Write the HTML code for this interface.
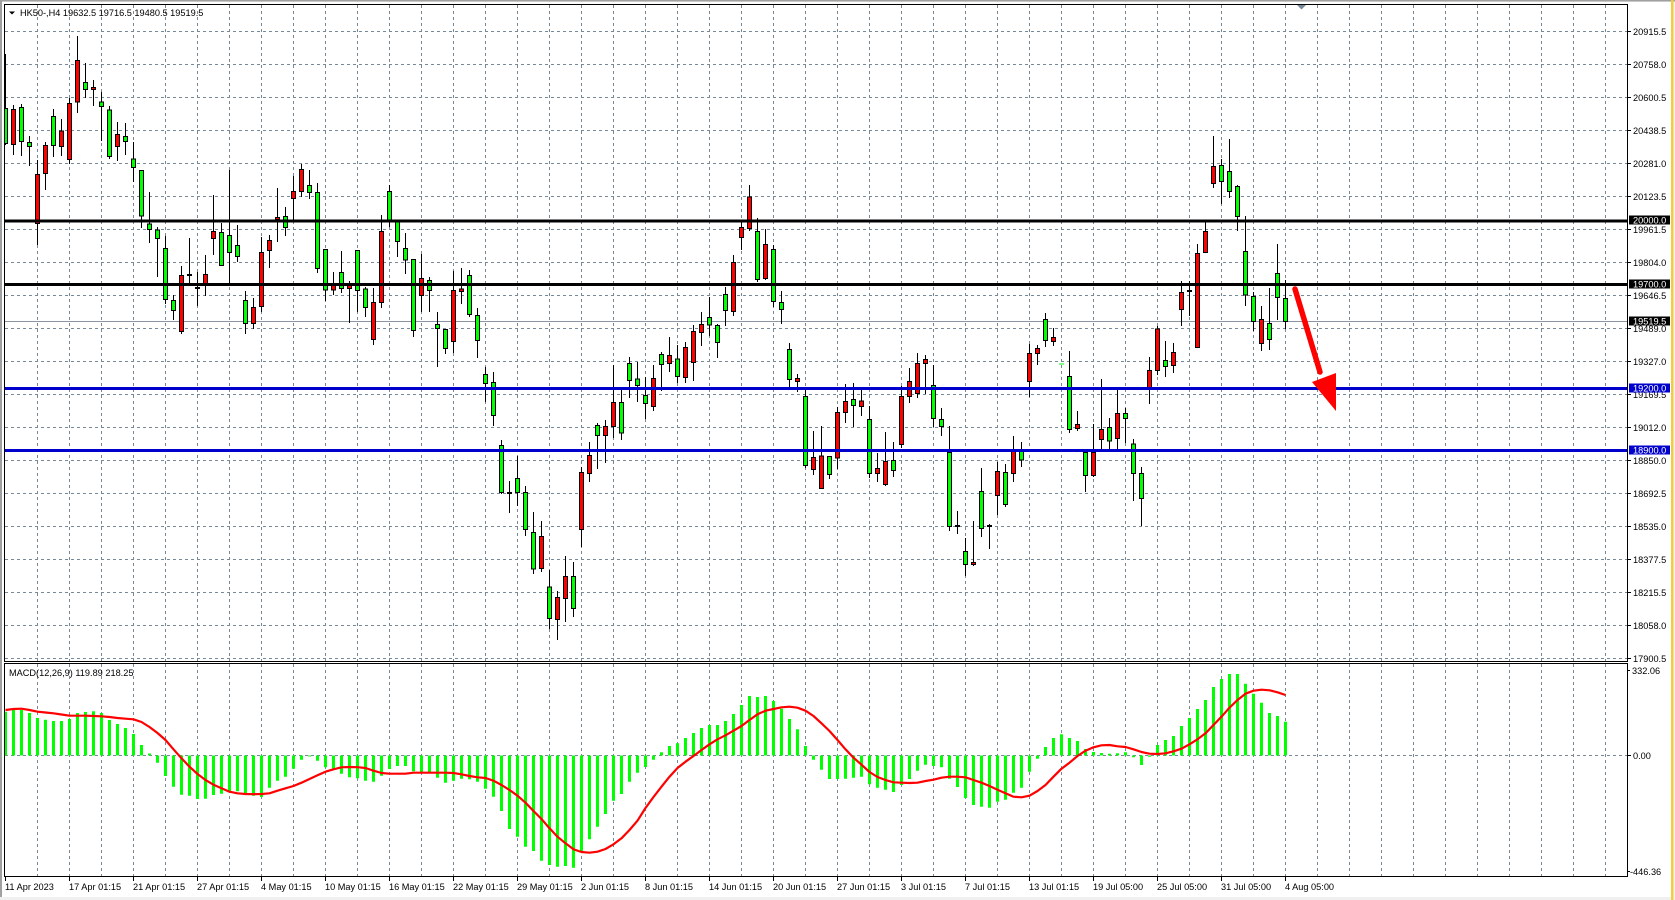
<!DOCTYPE html>
<html><head><meta charset="utf-8">
<style>
html,body{margin:0;padding:0;background:#f0f0f0;overflow:hidden;width:1675px;height:900px}
svg{position:absolute;left:0;top:0;display:block}
text{font-family:"Liberation Sans",Arial,sans-serif;font-size:9.2px;fill:#000}
</style></head><body>
<svg width="1675" height="900" viewBox="0 0 1675 900" xmlns="http://www.w3.org/2000/svg">
<defs>
<clipPath id="cp"><rect x="5" y="5" width="1622" height="656"/></clipPath>
<clipPath id="cm"><rect x="5" y="664" width="1622" height="212"/></clipPath>
</defs>
<!-- window -->
<rect x="0" y="0" width="1675" height="900" fill="#f0f0f0"/>
<rect x="2" y="2" width="1669" height="895" fill="#ffffff"/>
<rect x="0" y="0" width="1675" height="1.5" fill="#a0a0a0"/>
<rect x="0" y="0" width="2" height="897" fill="#a0a0a0"/>
<rect x="1671" y="0" width="2.5" height="900" fill="#f2cf3a"/>

<!-- grid price -->
<g stroke="#778899" stroke-width="1" stroke-dasharray="3 3" fill="none" shape-rendering="crispEdges">
<path d="M5 31.5H1627M5 64.5H1627M5 97.5H1627M5 130.5H1627M5 163.5H1627M5 196.5H1627M5 229.5H1627M5 262.5H1627M5 295.5H1627M5 328.5H1627M5 361.5H1627M5 394.5H1627M5 427.5H1627M5 460.5H1627M5 493.5H1627M5 526.5H1627M5 559.5H1627M5 592.5H1627M5 625.5H1627M5 658.5H1627"/>
<path d="M37.5 5V661M69.5 5V661M101.5 5V661M133.5 5V661M165.5 5V661M197.5 5V661M229.5 5V661M261.5 5V661M293.5 5V661M325.5 5V661M357.5 5V661M389.5 5V661M421.5 5V661M453.5 5V661M485.5 5V661M517.5 5V661M549.5 5V661M581.5 5V661M613.5 5V661M645.5 5V661M677.5 5V661M709.5 5V661M741.5 5V661M773.5 5V661M805.5 5V661M837.5 5V661M869.5 5V661M901.5 5V661M933.5 5V661M965.5 5V661M997.5 5V661M1029.5 5V661M1061.5 5V661M1093.5 5V661M1125.5 5V661M1157.5 5V661M1189.5 5V661M1221.5 5V661M1253.5 5V661M1285.5 5V661M1317.5 5V661M1349.5 5V661M1381.5 5V661M1413.5 5V661M1445.5 5V661M1477.5 5V661M1509.5 5V661M1541.5 5V661M1573.5 5V661M1605.5 5V661"/>
<path d="M37.5 664V876M69.5 664V876M101.5 664V876M133.5 664V876M165.5 664V876M197.5 664V876M229.5 664V876M261.5 664V876M293.5 664V876M325.5 664V876M357.5 664V876M389.5 664V876M421.5 664V876M453.5 664V876M485.5 664V876M517.5 664V876M549.5 664V876M581.5 664V876M613.5 664V876M645.5 664V876M677.5 664V876M709.5 664V876M741.5 664V876M773.5 664V876M805.5 664V876M837.5 664V876M869.5 664V876M901.5 664V876M933.5 664V876M965.5 664V876M997.5 664V876M1029.5 664V876M1061.5 664V876M1093.5 664V876M1125.5 664V876M1157.5 664V876M1189.5 664V876M1221.5 664V876M1253.5 664V876M1285.5 664V876M1317.5 664V876M1349.5 664V876M1381.5 664V876M1413.5 664V876M1445.5 664V876M1477.5 664V876M1509.5 664V876M1541.5 664V876M1573.5 664V876M1605.5 664V876"/>
<path d="M5 755.5H1627"/>
</g>

<!-- current price line -->
<path d="M5 321.5H1627" stroke="#8a96a3" stroke-width="1" shape-rendering="crispEdges"/>

<g clip-path="url(#cp)">
<!-- wicks -->
<path stroke="#000" stroke-width="1" fill="none" shape-rendering="crispEdges" d="M5.5 54V145M13.5 105V155M21.5 104V156M29.5 136V166M37.5 160V245M45.5 142V190M53.5 109V157M61.5 119V156M69.5 98V164M77.5 36V113M85.5 63V98M93.5 80V106M101.5 92V141M109.5 106V159M117.5 122V161M125.5 123V155M133.5 142V182M141.5 170V228M149.5 192V243M157.5 227V277M165.5 236V304M173.5 295V320M181.5 266V334M189.5 238V283M197.5 272V306M205.5 255V296M213.5 195V255M221.5 223V265M229.5 170V283M237.5 225V262M245.5 291V334M253.5 298V329M261.5 237V312M269.5 235V268M277.5 188V242M285.5 207V236M293.5 176V220M301.5 164V197M309.5 170V199M317.5 183V273M325.5 249V301M333.5 272V295M341.5 251V293M349.5 281V323M357.5 250V312M365.5 287V317M373.5 288V345M381.5 215V308M389.5 185V227M397.5 221V257M405.5 233V274M413.5 259V337M421.5 254V312M429.5 277V312M437.5 312V367M445.5 329V354M453.5 271V353M461.5 268V304M469.5 270V317M477.5 308V358M485.5 367V402M493.5 372V426M501.5 440V494M509.5 481V513M517.5 456V506M525.5 486V536M533.5 512V574M541.5 521V572M549.5 570V629M557.5 591V640M565.5 556V622M573.5 562V617M581.5 467V547M589.5 442V482M597.5 423V469M605.5 420V463M613.5 365V438M621.5 390V440M629.5 357V398M637.5 362V402M645.5 377V419M653.5 365V411M661.5 352V391M669.5 337V372M677.5 345V383M685.5 342V383M693.5 325V381M701.5 312V346M709.5 297V336M717.5 324V358M725.5 287V326M733.5 255V316M741.5 222V250M749.5 185V231M757.5 218V282M765.5 229V280M773.5 245V307M781.5 291V324M789.5 343V387M797.5 374V392M805.5 387V468M813.5 431V475M821.5 426V488M829.5 456V479M837.5 407V469M845.5 384V423M853.5 383V427M861.5 390V416M869.5 406V478M877.5 453V482M885.5 432V486M893.5 442V477M901.5 386V448M909.5 368V403M917.5 353V398M925.5 355V394M933.5 365V427M941.5 408V436M949.5 426V531M957.5 511V534M965.5 538V576M973.5 521V566M981.5 468V537M989.5 524V549M997.5 462V515M1005.5 464V507M1013.5 436V482M1021.5 442V467M1029.5 344V397M1037.5 345V365M1045.5 313V347M1053.5 328V346M1069.5 351V433M1077.5 411V431M1085.5 452V492M1093.5 424V477M1101.5 379V450M1109.5 418V452M1117.5 389V452M1125.5 408V443M1133.5 439V501M1141.5 467V526M1149.5 357V404M1157.5 326V375M1165.5 341V377M1173.5 343V373M1181.5 281V326M1189.5 281V316M1197.5 244V348M1205.5 222V252M1213.5 136V188M1221.5 159V204M1229.5 139V198M1237.5 185V231M1245.5 216V306M1253.5 292V331M1261.5 306V351M1269.5 288V350M1277.5 244V320M1285.5 280V329"/>
<!-- dojis -->
<path stroke="#000" stroke-width="2" fill="none" d="M187 275H192M195 288H200M507 493H512M955 526H960M987 526H992M1187 291H1192"/>
<path stroke="#00ff00" stroke-width="1" fill="none" d="M1059 364H1064"/>
<!-- green bodies -->
<g fill="#00ff00" stroke="#000" stroke-width="1">
<rect x="3.5" y="108.5" width="4" height="35"/>
<rect x="19.5" y="107.5" width="4" height="34"/>
<rect x="27.5" y="142.5" width="4" height="4"/>
<rect x="51.5" y="116.5" width="4" height="29"/>
<rect x="83.5" y="82.5" width="4" height="7"/>
<rect x="99.5" y="102" width="4" height="4.5"/>
<rect x="107.5" y="110" width="4" height="46.5"/>
<rect x="123.5" y="136.5" width="4" height="5"/>
<rect x="131.5" y="159" width="4" height="8.5"/>
<rect x="139.5" y="170.5" width="4" height="45.5"/>
<rect x="147.5" y="224" width="4" height="5.5"/>
<rect x="155.5" y="230" width="4" height="8.5"/>
<rect x="163.5" y="248.5" width="4" height="51"/>
<rect x="171.5" y="300.5" width="4" height="10"/>
<rect x="219.5" y="232.5" width="4" height="33"/>
<rect x="227.5" y="235.5" width="4" height="17"/>
<rect x="235.5" y="245.5" width="4" height="11"/>
<rect x="243.5" y="300.5" width="4" height="23"/>
<rect x="283.5" y="216.5" width="4" height="11"/>
<rect x="307.5" y="185.5" width="4" height="7"/>
<rect x="315.5" y="192.5" width="4" height="76"/>
<rect x="323.5" y="249.5" width="4" height="40.5"/>
<rect x="339.5" y="272.5" width="4" height="16"/>
<rect x="355.5" y="250.5" width="4" height="40"/>
<rect x="363.5" y="289" width="4" height="18.5"/>
<rect x="387.5" y="191.5" width="4" height="28.5"/>
<rect x="395.5" y="221" width="4" height="20.5"/>
<rect x="403.5" y="248.5" width="4" height="11.5"/>
<rect x="411.5" y="259.5" width="4" height="71"/>
<rect x="427.5" y="280.5" width="4" height="10"/>
<rect x="435.5" y="324.5" width="4" height="4"/>
<rect x="443.5" y="329.5" width="4" height="19"/>
<rect x="467.5" y="275.5" width="4" height="39"/>
<rect x="475.5" y="315.5" width="4" height="25"/>
<rect x="483.5" y="374.5" width="4" height="9"/>
<rect x="491.5" y="382.5" width="4" height="33"/>
<rect x="499.5" y="445.5" width="4" height="47"/>
<rect x="515.5" y="478.5" width="4" height="14"/>
<rect x="523.5" y="492.5" width="4" height="37"/>
<rect x="531.5" y="532.5" width="4" height="36.5"/>
<rect x="547.5" y="587" width="4" height="31.5"/>
<rect x="571.5" y="576.5" width="4" height="32"/>
<rect x="595.5" y="425.5" width="4" height="10"/>
<rect x="619.5" y="402.5" width="4" height="30.5"/>
<rect x="627.5" y="363.5" width="4" height="17"/>
<rect x="635.5" y="379" width="4" height="6.5"/>
<rect x="643.5" y="395.5" width="4" height="8"/>
<rect x="659.5" y="354.5" width="4" height="10"/>
<rect x="675.5" y="359" width="4" height="17.5"/>
<rect x="707.5" y="317.5" width="4" height="7.5"/>
<rect x="715.5" y="325.5" width="4" height="17"/>
<rect x="723.5" y="294.5" width="4" height="16"/>
<rect x="755.5" y="231.5" width="4" height="48"/>
<rect x="771.5" y="249.5" width="4" height="52"/>
<rect x="779.5" y="302.5" width="4" height="7"/>
<rect x="787.5" y="349.5" width="4" height="30"/>
<rect x="803.5" y="396.5" width="4" height="69"/>
<rect x="827.5" y="456.5" width="4" height="18"/>
<rect x="851.5" y="399.5" width="4" height="6"/>
<rect x="867.5" y="419.5" width="4" height="54"/>
<rect x="891.5" y="460.5" width="4" height="10"/>
<rect x="931.5" y="385.5" width="4" height="33"/>
<rect x="939.5" y="419.5" width="4" height="7"/>
<rect x="947.5" y="452.5" width="4" height="74"/>
<rect x="963.5" y="551.5" width="4" height="13"/>
<rect x="979.5" y="491.5" width="4" height="37"/>
<rect x="1003.5" y="472.5" width="4" height="32"/>
<rect x="1019.5" y="451" width="4" height="9"/>
<rect x="1043.5" y="319.5" width="4" height="21"/>
<rect x="1067.5" y="376.5" width="4" height="53"/>
<rect x="1083.5" y="452.5" width="4" height="23"/>
<rect x="1107.5" y="427.5" width="4" height="13.5"/>
<rect x="1123.5" y="413.5" width="4" height="5"/>
<rect x="1131.5" y="444" width="4" height="29.5"/>
<rect x="1139.5" y="473.5" width="4" height="25"/>
<rect x="1163.5" y="360.5" width="4" height="6"/>
<rect x="1219.5" y="165.5" width="4" height="16"/>
<rect x="1227.5" y="171.5" width="4" height="20"/>
<rect x="1235.5" y="186.5" width="4" height="30"/>
<rect x="1243.5" y="251.5" width="4" height="43.5"/>
<rect x="1251.5" y="296.5" width="4" height="25"/>
<rect x="1267.5" y="323.5" width="4" height="16"/>
<rect x="1275.5" y="273.5" width="4" height="24"/>
<rect x="1283.5" y="298.5" width="4" height="23"/>
</g>
<!-- red bodies -->
<g fill="#ff0000" stroke="#000" stroke-width="1">
<rect x="11.5" y="109.5" width="4" height="35"/>
<rect x="35.5" y="174.5" width="4" height="49"/>
<rect x="43.5" y="145.5" width="4" height="28"/>
<rect x="59.5" y="131" width="4" height="15.5"/>
<rect x="67.5" y="103.5" width="4" height="56"/>
<rect x="75.5" y="60.5" width="4" height="41.5"/>
<rect x="91.5" y="87.5" width="4" height="2"/>
<rect x="115.5" y="134.5" width="4" height="12"/>
<rect x="179.5" y="275.5" width="4" height="56"/>
<rect x="203.5" y="274.5" width="4" height="9"/>
<rect x="211.5" y="231.5" width="4" height="7"/>
<rect x="251.5" y="307.5" width="4" height="16"/>
<rect x="259.5" y="252.5" width="4" height="54"/>
<rect x="267.5" y="240.5" width="4" height="10"/>
<rect x="275.5" y="217.5" width="4" height="2"/>
<rect x="291.5" y="191.5" width="4" height="7"/>
<rect x="299.5" y="169.5" width="4" height="22"/>
<rect x="331.5" y="285.5" width="4" height="4.5"/>
<rect x="347.5" y="285.5" width="4" height="3"/>
<rect x="371.5" y="302.5" width="4" height="37"/>
<rect x="379.5" y="231.5" width="4" height="71"/>
<rect x="419.5" y="278.5" width="4" height="17"/>
<rect x="451.5" y="290.5" width="4" height="51"/>
<rect x="459.5" y="289" width="4" height="2.5"/>
<rect x="539.5" y="536.5" width="4" height="32"/>
<rect x="555.5" y="597.5" width="4" height="22"/>
<rect x="563.5" y="576.5" width="4" height="22"/>
<rect x="579.5" y="472.5" width="4" height="57"/>
<rect x="587.5" y="455.5" width="4" height="18"/>
<rect x="603.5" y="426.5" width="4" height="9"/>
<rect x="611.5" y="402.5" width="4" height="24"/>
<rect x="651.5" y="378.5" width="4" height="28"/>
<rect x="667.5" y="355.5" width="4" height="8"/>
<rect x="683.5" y="347.5" width="4" height="30"/>
<rect x="691.5" y="331.5" width="4" height="31"/>
<rect x="699.5" y="324.5" width="4" height="8"/>
<rect x="731.5" y="262.5" width="4" height="49"/>
<rect x="739.5" y="227.5" width="4" height="10"/>
<rect x="747.5" y="197" width="4" height="31.5"/>
<rect x="763.5" y="244.5" width="4" height="34"/>
<rect x="795.5" y="378.5" width="4" height="3"/>
<rect x="811.5" y="457.5" width="4" height="12"/>
<rect x="819.5" y="456" width="4" height="32.5"/>
<rect x="835.5" y="412.5" width="4" height="45.5"/>
<rect x="843.5" y="401.5" width="4" height="11"/>
<rect x="859.5" y="401" width="4" height="5.5"/>
<rect x="875.5" y="468.5" width="4" height="5"/>
<rect x="883.5" y="461.5" width="4" height="23"/>
<rect x="899.5" y="396.5" width="4" height="48"/>
<rect x="907.5" y="381.5" width="4" height="15"/>
<rect x="915.5" y="363.5" width="4" height="30"/>
<rect x="923.5" y="359.5" width="4" height="4"/>
<rect x="971.5" y="562.5" width="4" height="2"/>
<rect x="995.5" y="471.5" width="4" height="24"/>
<rect x="1011.5" y="451" width="4" height="22.5"/>
<rect x="1027.5" y="353.5" width="4" height="28"/>
<rect x="1035.5" y="348.5" width="4" height="5"/>
<rect x="1051.5" y="337.5" width="4" height="4"/>
<rect x="1075.5" y="424.5" width="4" height="4"/>
<rect x="1091.5" y="452.5" width="4" height="23"/>
<rect x="1099.5" y="429.5" width="4" height="10"/>
<rect x="1115.5" y="413.5" width="4" height="25"/>
<rect x="1147.5" y="370.5" width="4" height="19"/>
<rect x="1155.5" y="329" width="4" height="41.5"/>
<rect x="1171.5" y="352.5" width="4" height="13"/>
<rect x="1179.5" y="292.5" width="4" height="17"/>
<rect x="1195.5" y="253.5" width="4" height="94"/>
<rect x="1203.5" y="231.5" width="4" height="21"/>
<rect x="1211.5" y="166.5" width="4" height="17"/>
<rect x="1259.5" y="319.5" width="4" height="24"/>
</g>
<!-- level lines -->
<g shape-rendering="crispEdges">
<rect x="5" y="219.5" width="1622" height="3" fill="#000"/>
<rect x="5" y="283" width="1622" height="3" fill="#000"/>
<rect x="5" y="387" width="1622" height="3" fill="#0000cd"/>
<rect x="5" y="449" width="1622" height="3" fill="#0000cd"/>
</g>
<!-- arrow -->
<line x1="1295" y1="289" x2="1320" y2="372" stroke="#ff0000" stroke-width="5.5" stroke-linecap="round"/>
<polygon points="1312,382 1336,373 1336,411" fill="#ff0000"/>
<!-- shift marker -->
<polygon points="1297,5 1306,5 1301.5,9.5" fill="#778899"/>
</g>

<!-- MACD -->
<g clip-path="url(#cm)">
<path stroke="#00ff00" stroke-width="3" fill="none" d="M5.5 755.5V711.7M13.5 755.5V710M21.5 755.5V710M29.5 755.5V713M37.5 755.5V718M45.5 755.5V719.7M53.5 755.5V721M61.5 755.5V721M69.5 755.5V719M77.5 755.5V713M85.5 755.5V712M93.5 755.5V711.3M101.5 755.5V713M109.5 755.5V720M117.5 755.5V724M125.5 755.5V728M133.5 755.5V734M141.5 755.5V745M149.5 755.5V753.5M157.5 755.5V762.7M165.5 755.5V776M173.5 755.5V786.7M181.5 755.5V794.7M189.5 755.5V795.7M197.5 755.5V799M205.5 755.5V798.7M213.5 755.5V795M221.5 755.5V793.7M229.5 755.5V791.3M237.5 755.5V791.3M245.5 755.5V794.3M253.5 755.5V795.7M261.5 755.5V797M269.5 755.5V787.7M277.5 755.5V780.7M285.5 755.5V776.7M293.5 755.5V768.7M301.5 755.5V759.7M309.5 755.5V756.5M317.5 755.5V760.7M325.5 755.5V767.3M333.5 755.5V768.7M341.5 755.5V773.7M349.5 755.5V777.3M357.5 755.5V778.3M365.5 755.5V780.7M373.5 755.5V781.7M381.5 755.5V775.7M389.5 755.5V769M397.5 755.5V766M405.5 755.5V766M413.5 755.5V771.3M421.5 755.5V772M429.5 755.5V773.3M437.5 755.5V777.7M445.5 755.5V782.7M453.5 755.5V780.7M461.5 755.5V778.7M469.5 755.5V779.3M477.5 755.5V781.7M485.5 755.5V788.7M493.5 755.5V796.7M501.5 755.5V811M509.5 755.5V829M517.5 755.5V836.7M525.5 755.5V846.7M533.5 755.5V851M541.5 755.5V860.7M549.5 755.5V865M557.5 755.5V866.7M565.5 755.5V866M573.5 755.5V867.7M581.5 755.5V851.3M589.5 755.5V839.3M597.5 755.5V826.7M605.5 755.5V814M613.5 755.5V800.7M621.5 755.5V794M629.5 755.5V781.7M637.5 755.5V772.7M645.5 755.5V767M653.5 755.5V759.7M661.5 755.5V752.3M669.5 755.5V746M677.5 755.5V743.3M685.5 755.5V738M693.5 755.5V733M701.5 755.5V728M709.5 755.5V725M717.5 755.5V725M725.5 755.5V721M733.5 755.5V714M741.5 755.5V705M749.5 755.5V696M757.5 755.5V697M765.5 755.5V696M773.5 755.5V701M781.5 755.5V708.7M789.5 755.5V719M797.5 755.5V729.3M805.5 755.5V746M813.5 755.5V759.7M821.5 755.5V769.7M829.5 755.5V779M837.5 755.5V779M845.5 755.5V778.7M853.5 755.5V777.7M861.5 755.5V776.7M869.5 755.5V784.3M877.5 755.5V787.7M885.5 755.5V789.7M893.5 755.5V792M901.5 755.5V785M909.5 755.5V779M917.5 755.5V770.7M925.5 755.5V764.7M933.5 755.5V766M941.5 755.5V767.3M949.5 755.5V778.7M957.5 755.5V787M965.5 755.5V798M973.5 755.5V805M981.5 755.5V806.7M989.5 755.5V807.7M997.5 755.5V801.7M1005.5 755.5V799.7M1013.5 755.5V792.7M1021.5 755.5V787.7M1029.5 755.5V771.7M1037.5 755.5V758.7M1045.5 755.5V747M1053.5 755.5V738M1061.5 755.5V734.3M1069.5 755.5V738M1077.5 755.5V741M1085.5 755.5V749M1093.5 755.5V752M1101.5 755.5V753M1109.5 755.5V753.7M1117.5 755.5V753.3M1125.5 755.5V752.3M1133.5 755.5V757.3M1141.5 755.5V765M1149.5 755.5V756.7M1157.5 755.5V745M1165.5 755.5V740M1173.5 755.5V736M1181.5 755.5V726M1189.5 755.5V718M1197.5 755.5V709M1205.5 755.5V700M1213.5 755.5V687M1221.5 755.5V679M1229.5 755.5V674M1237.5 755.5V674M1245.5 755.5V683.7M1253.5 755.5V693.7M1261.5 755.5V702.7M1269.5 755.5V713M1277.5 755.5V716M1285.5 755.5V721.7"/>
<polyline fill="none" stroke="#ff0000" stroke-width="2.2" stroke-linejoin="round" points="5.5,710 13.5,709 21.5,708.7 29.5,710 37.5,711.7 45.5,712.5 53.5,713.3 61.5,714.5 69.5,715.7 77.5,715.7 85.5,715.7 93.5,716 101.5,716.3 109.5,717 117.5,718 125.5,718.7 133.5,719.3 141.5,722 149.5,727 157.5,733 165.5,740 173.5,749.3 181.5,758.3 189.5,766.7 197.5,774 205.5,780 213.5,784.7 221.5,788.3 229.5,791.7 237.5,793.3 245.5,794 253.5,794.2 261.5,794 269.5,793.3 277.5,790.7 285.5,788.3 293.5,786 301.5,782.7 309.5,779 317.5,775.3 325.5,771.7 333.5,769.3 341.5,767.3 349.5,767 357.5,767.2 365.5,768 373.5,770.7 381.5,773 389.5,773.7 397.5,773.7 405.5,773.7 413.5,772.7 421.5,772.7 429.5,772.7 437.5,772.7 445.5,772.7 453.5,773 461.5,774.3 469.5,776 477.5,777.3 485.5,778 493.5,780.7 501.5,785 509.5,790 517.5,795.7 525.5,802.7 533.5,811 541.5,819 549.5,828.3 557.5,836.7 565.5,843.3 573.5,849.3 581.5,852 589.5,852.7 597.5,851.7 605.5,849 613.5,844.3 621.5,838.3 629.5,830 637.5,820.7 645.5,808 653.5,797 661.5,786.7 669.5,776.7 677.5,768 685.5,761.7 693.5,756 701.5,750 709.5,744.3 717.5,739.3 725.5,735.3 733.5,730.7 741.5,726 749.5,720 757.5,714.3 765.5,710.7 773.5,709 781.5,707.3 789.5,706.7 797.5,707.7 805.5,710.7 813.5,716 821.5,723.3 829.5,731 837.5,740 845.5,749.3 853.5,757.7 861.5,764.7 869.5,772 877.5,777 885.5,780 893.5,782.3 901.5,782.7 909.5,783 917.5,782.7 925.5,781 933.5,779.7 941.5,777.7 949.5,776.7 957.5,776.7 965.5,777.3 973.5,780 981.5,782.7 989.5,786 997.5,789.7 1005.5,793.3 1013.5,796.7 1021.5,797.3 1029.5,795.7 1037.5,791 1045.5,785 1053.5,776.7 1061.5,768.7 1069.5,762.7 1077.5,756 1085.5,750.7 1093.5,747.3 1101.5,745.3 1109.5,745 1117.5,746.3 1125.5,747 1133.5,749.3 1141.5,752 1149.5,753.7 1157.5,754 1165.5,753.3 1173.5,751.3 1181.5,748.7 1189.5,744.3 1197.5,739.3 1205.5,733.3 1213.5,725 1221.5,716.7 1229.5,707.7 1237.5,700 1245.5,693.7 1253.5,690.7 1261.5,689.7 1269.5,690.3 1277.5,692.3 1285.5,695"/>
</g>

<!-- frames -->
<g fill="none" stroke="#000" stroke-width="1" shape-rendering="crispEdges">
<rect x="4.5" y="4.5" width="1623" height="657"/>
<rect x="4.5" y="663.5" width="1623" height="213"/>
</g>

<!-- right axis ticks -->
<path stroke="#000" stroke-width="1" shape-rendering="crispEdges" d="M1627 31.5H1631M1627 64.5H1631M1627 97.5H1631M1627 130.5H1631M1627 163.5H1631M1627 196.5H1631M1627 229.5H1631M1627 262.5H1631M1627 295.5H1631M1627 328.5H1631M1627 361.5H1631M1627 394.5H1631M1627 427.5H1631M1627 460.5H1631M1627 493.5H1631M1627 526.5H1631M1627 559.5H1631M1627 592.5H1631M1627 625.5H1631M1627 658.5H1631M1627 670.5H1630M1627 755.5H1631M1627 871.5H1630"/>
<!-- bottom ticks -->
<path stroke="#000" stroke-width="1" shape-rendering="crispEdges" d="M5.5 877V881M69.5 877V881M133.5 877V881M197.5 877V881M261.5 877V881M325.5 877V881M389.5 877V881M453.5 877V881M517.5 877V881M581.5 877V881M645.5 877V881M709.5 877V881M773.5 877V881M837.5 877V881M901.5 877V881M965.5 877V881M1029.5 877V881M1093.5 877V881M1157.5 877V881M1221.5 877V881M1285.5 877V881"/>

<!-- right axis labels -->
<g>
<text x="1633" y="35">20915.5</text>
<text x="1633" y="68">20758.0</text>
<text x="1633" y="101">20600.5</text>
<text x="1633" y="134">20438.5</text>
<text x="1633" y="167">20281.0</text>
<text x="1633" y="200">20123.5</text>
<text x="1633" y="233">19961.5</text>
<text x="1633" y="266">19804.0</text>
<text x="1633" y="299">19646.5</text>
<text x="1633" y="332">19489.0</text>
<text x="1633" y="365">19327.0</text>
<text x="1633" y="398">19169.5</text>
<text x="1633" y="431">19012.0</text>
<text x="1633" y="464">18850.0</text>
<text x="1633" y="497">18692.5</text>
<text x="1633" y="530">18535.0</text>
<text x="1633" y="563">18377.5</text>
<text x="1633" y="596">18215.5</text>
<text x="1633" y="629">18058.0</text>
<text x="1633" y="662">17900.5</text>
<text x="1632" y="674">332.06</text>
<text x="1633" y="759">0.00</text>
<text x="1630" y="875">-446.36</text>
</g>
<!-- level boxes -->
<g shape-rendering="crispEdges">
<rect x="1629" y="215.5" width="41" height="9" fill="#000"/>
<rect x="1629" y="279.5" width="41" height="9" fill="#000"/>
<rect x="1629" y="316.5" width="41" height="9" fill="#000"/>
<rect x="1629" y="383.5" width="41" height="9" fill="#0000cd"/>
<rect x="1629" y="445.5" width="41" height="9" fill="#0000cd"/>
</g>
<g style="fill:#fff">
<text x="1633" y="223.5" style="fill:#fff">20000.0</text>
<text x="1633" y="287.5" style="fill:#fff">19700.0</text>
<text x="1633" y="324.5" style="fill:#fff">19519.5</text>
<text x="1633" y="391.5" style="fill:#fff">19200.0</text>
<text x="1633" y="453.5" style="fill:#fff">18900.0</text>
</g>

<!-- titles -->
<polygon points="9,11.5 15,11.5 12,14.5" fill="#000"/>
<text x="20" y="16">HK50-,H4  19632.5 19716.5 19480.5 19519.5</text>
<text x="9" y="676">MACD(12,26,9) 119.89 218.25</text>

<!-- x axis labels -->
<g>
<text x="5" y="890">11 Apr 2023</text>
<text x="69" y="890">17 Apr 01:15</text>
<text x="133" y="890">21 Apr 01:15</text>
<text x="197" y="890">27 Apr 01:15</text>
<text x="261" y="890">4 May 01:15</text>
<text x="325" y="890">10 May 01:15</text>
<text x="389" y="890">16 May 01:15</text>
<text x="453" y="890">22 May 01:15</text>
<text x="517" y="890">29 May 01:15</text>
<text x="581" y="890">2 Jun 01:15</text>
<text x="645" y="890">8 Jun 01:15</text>
<text x="709" y="890">14 Jun 01:15</text>
<text x="773" y="890">20 Jun 01:15</text>
<text x="837" y="890">27 Jun 01:15</text>
<text x="901" y="890">3 Jul 01:15</text>
<text x="965" y="890">7 Jul 01:15</text>
<text x="1029" y="890">13 Jul 01:15</text>
<text x="1093" y="890">19 Jul 05:00</text>
<text x="1157" y="890">25 Jul 05:00</text>
<text x="1221" y="890">31 Jul 05:00</text>
<text x="1285" y="890">4 Aug 05:00</text>
</g>
</svg>
</body></html>
